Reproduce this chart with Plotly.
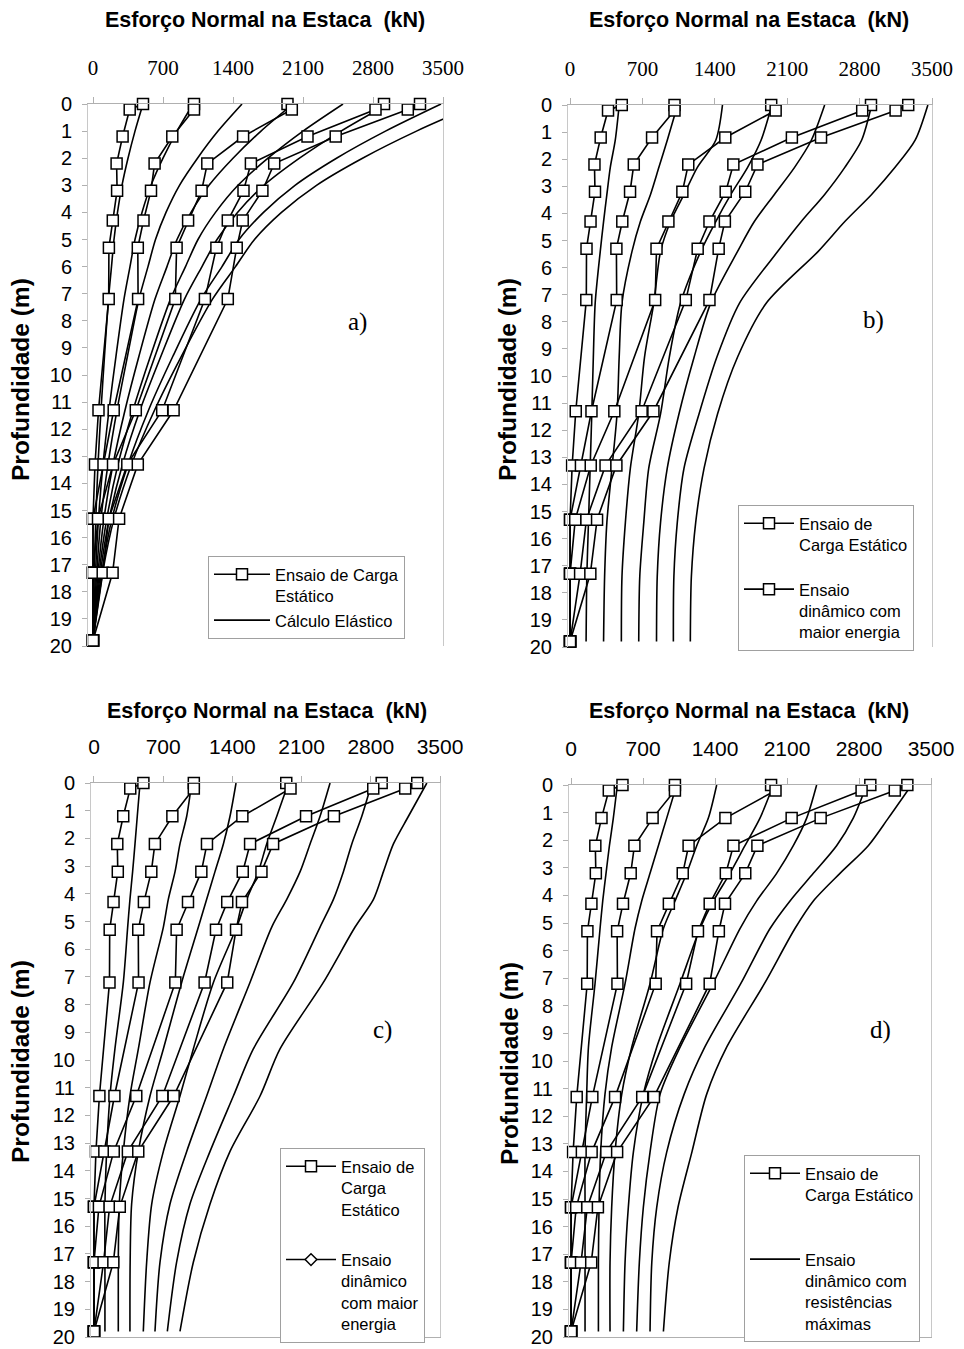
import plotly.graph_objects as go

# ---------------- data ----------------
x_ticks = [0, 700, 1400, 2100, 2800, 3500]
y_ticks = list(range(0, 21))

# static load test (same in all panels)
depth_static = [0, 0.2, 1.2, 2.2, 3.2, 4.3, 5.3, 7.2, 11.3, 13.3, 15.3, 17.3, 19.8]
static_1 = [500, 367, 296, 236, 241, 198, 159, 157, 55, 20, 0, 0, 0]
static_2 = [1010, 1010, 793, 616, 580, 505, 448, 451, 207, 105, 0, 0, 0]
static_3 = [1945, 1988, 1501, 1143, 1086, 951, 836, 823, 428, 200, 50, 0, 0]
static_4 = [2910, 2825, 2145, 1579, 1505, 1348, 1234, 1119, 692, 343, 158, 97, 0]
static_5 = [3270, 3148, 2427, 1812, 1694, 1497, 1437, 1348, 806, 448, 261, 196, 0]

# panel a - elastic calculation
depth_a = [0, 1, 2, 3, 4, 5, 6, 7.2, 9.3, 11.3, 13.3, 15.3, 17.3, 19.8]
elast_1 = [500, 420, 350, 290, 245, 210, 185, 155, 115, 80, 50, 28, 12, 0]
elast_2 = [1000, 840, 700, 580, 490, 420, 370, 310, 230, 160, 100, 55, 25, 0]
elast_3 = [1490, 1250, 1045, 865, 730, 625, 550, 460, 345, 240, 150, 80, 37, 0]
elast_4 = [2000, 1680, 1400, 1160, 980, 840, 740, 620, 460, 320, 200, 110, 50, 0]
elast_5 = [2500, 2100, 1750, 1450, 1225, 1050, 925, 775, 575, 400, 250, 138, 62, 0]
elast_6 = [2950, 2480, 2065, 1710, 1445, 1240, 1090, 915, 680, 470, 295, 162, 74, 0]
elast_7 = [3480, 2925, 2435, 2020, 1705, 1460, 1290, 1080, 800, 555, 350, 190, 87, 0]
elast_8 = [3850, 3235, 2695, 2235, 1885, 1615, 1425, 1195, 885, 615, 385, 210, 96, 0]

# panel b - dynamic test, highest energy
depth_b = [0, 1.3, 2.3, 3.3, 4.3, 5.4, 7.3, 9.3, 11.4, 13.4, 15.4, 17.4, 19.8]
dynb_1 = [475, 437, 389, 356, 324, 292, 243, 225, 210, 194, 178, 162, 155]
dynb_2 = [1040, 940, 859, 778, 680, 599, 502, 475, 454, 405, 356, 334, 324]
dynb_3 = [1474, 1409, 1231, 1102, 972, 875, 810, 720, 664, 583, 535, 502, 496]
dynb_4 = [1951, 1847, 1717, 1555, 1409, 1264, 1069, 960, 875, 761, 713, 674, 664]
dynb_5 = [2462, 2333, 2171, 1976, 1782, 1620, 1361, 1200, 1053, 940, 875, 843, 836]
dynb_6 = [2916, 2819, 2657, 2462, 2236, 2009, 1640, 1420, 1247, 1102, 1037, 1004, 999]
dynb_7 = [3460, 3337, 3143, 2916, 2657, 2400, 1900, 1620, 1426, 1296, 1215, 1173, 1163]

# panel c - dynamic test, highest energy (second analysis)
depth_c = [0, 1.2, 2.2, 3.2, 4.2, 5.2, 7.2, 9.6, 11.3, 13.3, 15.2, 17.3, 19.8]
dync_1 = [466, 438, 415, 391, 364, 341, 297, 212, 162, 128, 111, 111, 111]
dync_2 = [988, 938, 870, 820, 752, 702, 567, 449, 364, 297, 256, 246, 246]
dync_3 = [1437, 1376, 1309, 1224, 1140, 1056, 887, 702, 567, 449, 381, 366, 364]
dync_4 = [1967, 1849, 1747, 1663, 1545, 1444, 1208, 1005, 870, 702, 584, 533, 499]
dync_5 = [2388, 2287, 2186, 2085, 1950, 1798, 1578, 1309, 1140, 938, 769, 668, 617]
dync_6 = [2810, 2709, 2608, 2523, 2422, 2287, 2017, 1612, 1410, 1174, 971, 836, 742]
dync_7 = [3367, 3181, 3029, 2928, 2827, 2641, 2320, 1882, 1680, 1376, 1174, 1005, 870]

# panel d - dynamic test, maximum resistances
depth_d = [0, 1.2, 2.2, 3.2, 4.2, 5.2, 7.2, 9.5, 11.2, 13.3, 15.3, 17.3, 19.8]
dynd_1 = [450, 411, 373, 340, 308, 282, 233, 169, 152, 136, 136, 136, 136]
dynd_2 = [1027, 930, 849, 768, 687, 622, 525, 395, 330, 288, 272, 266, 266]
dynd_3 = [1416, 1335, 1222, 1124, 1011, 898, 768, 590, 493, 428, 395, 379, 379]
dynd_4 = [1967, 1837, 1691, 1545, 1384, 1254, 1059, 833, 703, 606, 557, 525, 509]
dynd_5 = [2388, 2291, 2161, 1999, 1805, 1643, 1380, 1060, 866, 768, 703, 664, 638]
dynd_6 = [2874, 2744, 2582, 2356, 2129, 1935, 1650, 1300, 1100, 930, 833, 785, 768]
dynd_7 = [3311, 3085, 2890, 2615, 2356, 2177, 1880, 1513, 1319, 1175, 1040, 955, 898]

static_series = [static_1, static_2, static_3, static_4, static_5]
panel_curves = {
    "a": (depth_a, [elast_1, elast_2, elast_3, elast_4, elast_5, elast_6, elast_7, elast_8]),
    "b": (depth_b, [dynb_1, dynb_2, dynb_3, dynb_4, dynb_5, dynb_6, dynb_7]),
    "c": (depth_c, [dync_1, dync_2, dync_3, dync_4, dync_5, dync_6, dync_7]),
    "d": (depth_d, [dynd_1, dynd_2, dynd_3, dynd_4, dynd_5, dynd_6, dynd_7]),
}

legend_text = {
    "a": ("Ensaio de Carga<br>Estático", "Cálculo Elástico", None),
    "b": ("Ensaio de<br>Carga Estático", "Ensaio<br>dinâmico com<br>maior energia", "square"),
    "c": ("Ensaio de<br>Carga<br>Estático", "Ensaio<br>dinâmico<br>com maior<br>energia", "diamond"),
    "d": ("Ensaio de<br>Carga Estático", "Ensaio<br>dinâmico com<br>resistências<br>máximas", None),
}

# ---------------- layout geometry (pixels in the final page) ----------------
W, H = 964, 1349
OFF = 8  # page body margin
SANS = "Liberation Sans, Arial, sans-serif"
SERIF = "Liberation Serif, Times New Roman, serif"


def px(v):
    return (v - OFF) / W


def py(v):
    return 1 - (v - OFF) / H


panels = {
    #      x0    x1   y0(top) y1(bottom) xmin  tick font  size
    "a": (88, 443, 104, 646, -50, SERIF, 21),
    "b": (568, 932, 105, 647, -20, SERIF, 21),
    "c": (91, 440, 783, 1337, -30, SANS, 21),
    "d": (569, 931, 785, 1337, -20, SANS, 21),
}
#             left  top  group gap  itemwidth
legend_pos = {"a": (208, 556, 0, 56), "b": (738, 505, 20, 50),
              "c": (280, 1148, 26, 50), "d": (744, 1155, 40, 50)}

fig = go.Figure()
layout = dict(width=W, height=H, margin=dict(l=0, r=0, t=0, b=0),
              paper_bgcolor="white", plot_bgcolor="white", annotations=[])

line_kw = dict(color="black", width=1.6)
sq_marker = dict(symbol="square", size=11, color="white", line=dict(color="black", width=1.5))
for i, key in enumerate(["a", "b", "c", "d"]):
    n = "" if i == 0 else str(i + 1)
    xa, ya = "x" + n, "y" + n
    lg = "legend" + n
    x0, x1, y0, y1, xmin, tfam, tsize = panels[key]
    layout["xaxis" + n] = dict(
        domain=[px(x0), px(x1)], range=[xmin, 3500], side="top", anchor=ya,
        tickvals=x_ticks, ticks="outside", ticklen=6, tickcolor="#b0b0b0",
        showline=True, linecolor="#b0b0b0", linewidth=1, mirror=(key in "cd"),
        showgrid=False, zeroline=False, ticklabelstandoff=14, automargin=False,
        tickfont=dict(family=tfam, size=tsize, color="black"))
    layout["yaxis" + n] = dict(
        domain=[py(y1), py(y0)], range=[20, 0], anchor=xa,
        tickvals=y_ticks, ticks="outside", ticklen=5, tickcolor="#b0b0b0",
        showline=True, linecolor="#c8c8c8", linewidth=1, mirror=True,
        showgrid=False, zeroline=False, ticklabelstandoff=6, automargin=False,
        tickfont=dict(family=SANS, size=20, color="black"))

    dep, curves = panel_curves[key]
    st_name, dyn_name, dyn_sym = legend_text[key]
    for vals in curves:
        fig.add_trace(go.Scatter(
            x=vals, y=dep, xaxis=xa, yaxis=ya, mode="lines",
            line=dict(shape="spline", smoothing=0.8, **line_kw),
            showlegend=False, hoverinfo="skip"))
    for vals in static_series:
        fig.add_trace(go.Scatter(
            x=vals, y=depth_static, xaxis=xa, yaxis=ya, mode="lines+markers",
            line=line_kw, cliponaxis=False, marker=sq_marker,
            showlegend=False, hoverinfo="skip"))
    fig.add_trace(go.Scatter(
        x=[None], y=[None], xaxis=xa, yaxis=ya, mode="lines+markers",
        name=st_name, legend=lg, legendgroup=key + "s", line=line_kw, marker=sq_marker))
    if dyn_sym:
        fig.add_trace(go.Scatter(
            x=[None], y=[None], xaxis=xa, yaxis=ya, mode="lines+markers",
            name=dyn_name, legend=lg, legendgroup=key + "d", line=line_kw,
            marker=dict(symbol=dyn_sym, size=11 if dyn_sym == "square" else 9,
                        color="white", line=dict(color="black", width=1.5))))
    else:
        fig.add_trace(go.Scatter(
            x=[None], y=[None], xaxis=xa, yaxis=ya, mode="lines",
            name=dyn_name, legend=lg, legendgroup=key + "d", line=line_kw))
    lx, ly, gap, iw = legend_pos[key]
    layout[lg] = dict(x=px(lx), y=py(ly), xanchor="left", yanchor="top",
                      bgcolor="white", bordercolor="#a0a0a0", borderwidth=1,
                      font=dict(family=SANS, size=16.5, color="black"),
                      valign="top", tracegroupgap=gap, itemwidth=iw,
                      traceorder="grouped")

# titles
for (cx, cy) in [(265, 20), (749, 20), (267, 711), (749, 711)]:
    layout["annotations"].append(dict(
        x=px(cx), y=py(cy), xref="paper", yref="paper", showarrow=False,
        text="<b>Esforço Normal na Estaca\u00a0\u00a0(kN)</b>",
        font=dict(family=SANS, size=21.5, color="black"),
        xanchor="center", yanchor="middle"))
for (cx, cy) in [(20, 380), (507, 380), (20, 1062), (509, 1064)]:
    layout["annotations"].append(dict(
        x=px(cx), y=py(cy), xref="paper", yref="paper", showarrow=False,
        text="<b>Profundidade (m)</b>", textangle=-90,
        font=dict(family=SANS, size=24.5, color="black"),
        xanchor="center", yanchor="middle"))
for lab, (cx, cy) in zip(["a)", "b)", "c)", "d)"],
                         [(357, 322), (873, 320), (382, 1030), (880, 1030)]):
    layout["annotations"].append(dict(
        x=px(cx), y=py(cy), xref="paper", yref="paper", showarrow=False,
        text=lab, font=dict(family=SERIF, size=25, color="black"),
        xanchor="center", yanchor="middle"))

fig.update_layout(**layout)
fig.write_html("out.html")
